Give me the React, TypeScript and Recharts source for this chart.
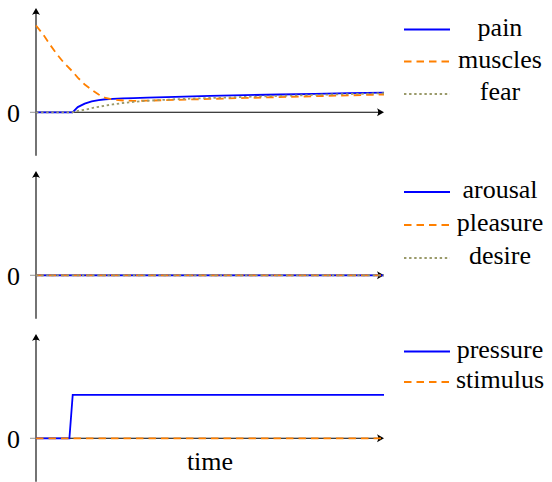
import React from 'react';
import { LineChart, Line, XAxis, YAxis, ReferenceLine, Legend, Label } from 'recharts';

// ---------- data ----------
const bodyTime = [0, 2, 4, 6, 8, 10, 10.5, 12, 14, 16, 18, 20, 22, 25, 28, 32, 40, 50, 60, 70, 80, 90, 100];
const painValues = [0, 0, 0, 0, 0, 0, 0, 0.06, 0.1, 0.125, 0.14, 0.15, 0.155, 0.16, 0.163, 0.17, 0.178, 0.188, 0.197, 0.205, 0.213, 0.22, 0.227];
const musclesValues = [1.0, 0.9, 0.78, 0.67, 0.57, 0.49, 0.47, 0.4, 0.32, 0.26, 0.205, 0.165, 0.147, 0.136, 0.131, 0.134, 0.143, 0.154, 0.165, 0.175, 0.185, 0.195, 0.205];
const fearValues = [0, 0, 0, 0, 0, 0, 0, 0.015, 0.03, 0.047, 0.063, 0.078, 0.09, 0.107, 0.12, 0.133, 0.15, 0.165, 0.177, 0.189, 0.2, 0.21, 0.219];

const emotionTime = [0, 100];
const arousalValues = [0, 0];
const pleasureValues = [0, 0];
const desireValues = [0, 0];

const stimTime = [0, 9.6, 10.55, 100];
const pressureValues = [0, 0, 0.5, 0.5];
const stimulusValues = [0, 0, 0, 0];

const yTicks = [0];
const xAxisLabel = 'time';

// ---------- styles ----------
const FONT = "'Liberation Serif', 'DejaVu Serif', 'Noto Serif', 'Tinos', 'Times New Roman', Times, 'FreeSerif', serif";
const BLUE = '#0000ff';
const ORANGE = '#ff8000';
const OLIVE = '#9a9a6a';
const DASH = '7.5 5';
const DOT = '2.4 2.7';
const LW = 1.8;

type Spec = { key: string; name: string; color: string; dash?: string };

const HArrow = (p: any) => {
  const x1 = Math.min(p.x1, p.x2);
  const x2 = Math.max(p.x1, p.x2);
  const y = p.y1;
  return (
    <g>
      <line x1={x1} y1={y} x2={x2 - 2} y2={y} stroke="#000" strokeWidth={1.1} />
      <path d={`M${x2},${y} L${x2 - 7},${y - 4} Q${x2 - 4.5},${y} ${x2 - 7},${y + 4} Z`} fill="#000" />
    </g>
  );
};

const VArrow = (p: any) => {
  const yTop = Math.min(p.y1, p.y2);
  const yBot = Math.max(p.y1, p.y2);
  const x = p.x1;
  return (
    <g>
      <line x1={x} y1={yBot} x2={x} y2={yTop + 2} stroke="#000" strokeWidth={1.1} />
      <path d={`M${x},${yTop} L${x - 4},${yTop + 7} Q${x},${yTop + 4.5} ${x + 4},${yTop + 7} Z`} fill="#000" />
    </g>
  );
};

const LegendBox = ({ items, rows, height }: { items: Spec[]; rows: number[]; height: number }) => (
  <svg width={157} height={height} style={{ display: 'block', overflow: 'visible' }}>
    {items.map((s, i) => (
      <g key={s.key}>
        <line x1={9} x2={55} y1={rows[i]} y2={rows[i]} stroke={s.color} strokeWidth={LW} strokeDasharray={s.dash} />
        <text x={105} y={rows[i] + 6} textAnchor="middle" style={{ fontSize: 26, fontFamily: FONT }} fill="#000">
          {s.name}
        </text>
      </g>
    ))}
  </svg>
);

const PLOT_TOP = 8.1;
const PLOT_H = 147.6;

function Panel({
  top,
  height,
  times,
  values,
  specs,
  rows,
  showTime,
}: {
  top: number;
  height: number;
  times: number[];
  values: number[][];
  specs: Spec[];
  rows: number[];
  showTime?: boolean;
}) {
  const data = times.map((t, i) => {
    const row: any = { t };
    specs.forEach((s, j) => {
      row[s.key] = values[j][i];
    });
    return row;
  });
  return (
    <div style={{ position: 'absolute', left: 0, top, width: 552, height }}>
      <LineChart
        width={552}
        height={height}
        data={data}
        margin={{ top: PLOT_TOP, right: 168, bottom: height - PLOT_TOP - PLOT_H, left: 0 }}
        style={{ fontFamily: FONT }}
      >
        <XAxis dataKey="t" type="number" domain={[0, 100]} hide />
        <YAxis
          type="number"
          domain={[-0.5, 1.2]}
          ticks={yTicks}
          interval={0}
          width={36}
          axisLine={false}
          tickSize={6}
          tickMargin={10}
          tickLine={{ stroke: '#777', strokeWidth: 0.8 }}
          tick={{ fontSize: 26, fontFamily: FONT, fill: '#000', style: { fontFamily: FONT } }}
          allowDataOverflow
        />
        <ReferenceLine x={0} shape={VArrow} />
        <ReferenceLine y={0} shape={HArrow}>
          {showTime ? (
            <Label
              value={xAxisLabel}
              position="bottom"
              offset={13}
              fontSize={26}
              fontFamily={FONT}
              fill="#000"
              style={{ fontFamily: FONT }}
            />
          ) : null}
        </ReferenceLine>
        {specs.map((s) => (
          <Line
            key={s.key}
            dataKey={s.key}
            name={s.name}
            type="linear"
            stroke={s.color}
            strokeWidth={LW}
            strokeDasharray={s.dash}
            dot={false}
            activeDot={false}
            isAnimationActive={false}
          />
        ))}
        <Legend
          layout="horizontal"
          verticalAlign="middle"
          align="center"
          wrapperStyle={{ position: 'absolute', left: 395, top: 0, width: 157, height, margin: 0 }}
          content={() => <LegendBox items={specs} rows={rows} height={height} />}
        />
      </LineChart>
    </div>
  );
}

const bodySpecs: Spec[] = [
  { key: 'pain', name: 'pain', color: BLUE },
  { key: 'muscles', name: 'muscles', color: ORANGE, dash: DASH },
  { key: 'fear', name: 'fear', color: OLIVE, dash: DOT },
];
const emotionSpecs: Spec[] = [
  { key: 'arousal', name: 'arousal', color: BLUE },
  { key: 'pleasure', name: 'pleasure', color: ORANGE, dash: DASH },
  { key: 'desire', name: 'desire', color: OLIVE, dash: DOT },
];
const stimSpecs: Spec[] = [
  { key: 'pressure', name: 'pressure', color: BLUE },
  { key: 'stimulus', name: 'stimulus', color: ORANGE, dash: DASH },
];

export default function App() {
  return (
    <div
      style={{
        position: 'absolute',
        left: 0,
        top: 0,
        width: 552,
        height: 482,
        overflow: 'hidden',
        background: '#fff',
        fontFamily: FONT,
      }}
    >
      <Panel
        top={0}
        height={160}
        times={bodyTime}
        values={[painValues, musclesValues, fearValues]}
        specs={bodySpecs}
        rows={[29.5, 61.5, 94]}
      />
      <Panel
        top={163.4}
        height={160}
        times={emotionTime}
        values={[arousalValues, pleasureValues, desireValues]}
        specs={emotionSpecs}
        rows={[29, 62, 95]}
      />
      <Panel
        top={326}
        height={156}
        times={stimTime}
        values={[pressureValues, stimulusValues]}
        specs={stimSpecs}
        rows={[25.5, 56]}
        showTime
      />
    </div>
  );
}
